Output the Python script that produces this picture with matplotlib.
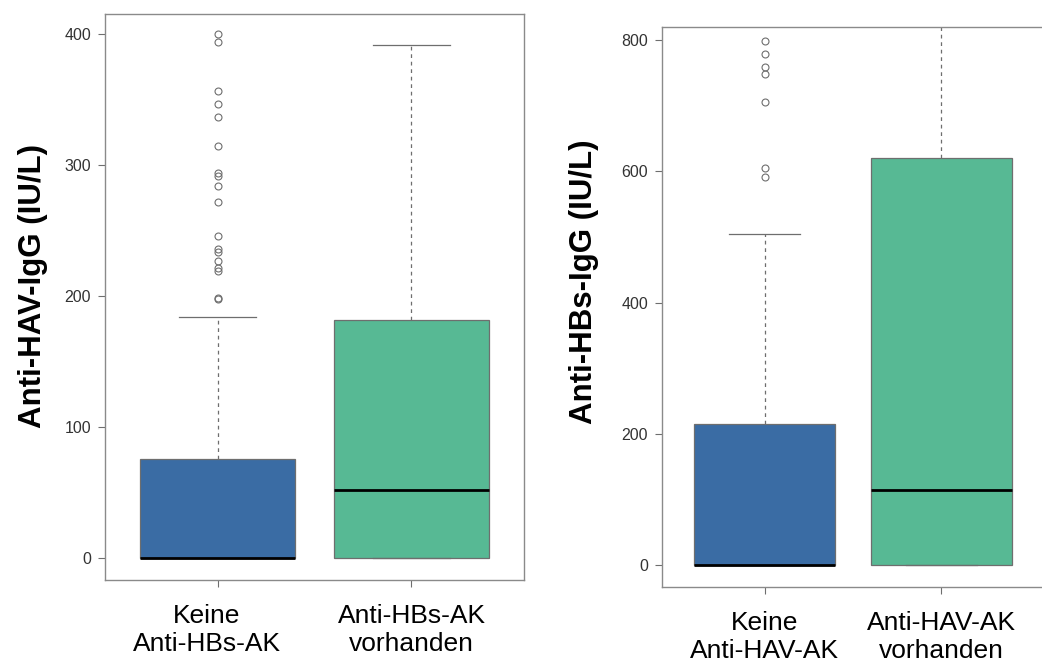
import matplotlib.pyplot as plt
import matplotlib.transforms as mtransforms

plt.rcParams["font.family"] = ["Liberation Sans", "DejaVu Sans"]

# Left panel: Anti-HAV-IgG by Anti-HBs status
hav_groups = ["Keine\nAnti-HBs-AK", "Anti-HBs-AK\nvorhanden"]
hav_q1 = [0, 0]
hav_med = [0, 52]
hav_q3 = [76, 182]
hav_whislo = [0, 0]
hav_whishi = [184, 392]
hav_fliers = [
    [400, 394, 357, 347, 337, 315, 294, 292, 284, 272,
     246, 236, 234, 227, 222, 219, 199, 198],
    [],
]
hav_ticks = [0, 100, 200, 300, 400]

# Right panel: Anti-HBs-IgG by Anti-HAV status
hbs_groups = ["Keine\nAnti-HAV-AK", "Anti-HAV-AK\nvorhanden"]
hbs_q1 = [0, 0]
hbs_med = [0, 115]
hbs_q3 = [216, 621]
hbs_whislo = [0, 0]
hbs_whishi = [504, 950]
hbs_fliers = [[799, 779, 759, 749, 706, 605, 591], []]
hbs_ticks = [0, 200, 400, 600, 800]

COLORS = ["#3a6ca4", "#57b994"]
GREY = "#6e6e6e"


def make_stats(q1, med, q3, lo, hi, fliers):
    return [
        dict(q1=a, med=b, q3=c, whislo=d, whishi=e, fliers=f)
        for a, b, c, d, e, f in zip(q1, med, q3, lo, hi, fliers)
    ]


def draw_panel(ax, stats, groups, ticks, ylim, ylabel, label_xy):
    bp = ax.bxp(
        stats,
        positions=[1, 2],
        widths=0.8,
        capwidths=0.4,
        patch_artist=True,
        boxprops=dict(edgecolor=GREY, linewidth=0.9),
        medianprops=dict(color="black", linewidth=2.0),
        whiskerprops=dict(color=GREY, linewidth=0.9, linestyle=(0, (3, 3))),
        capprops=dict(color=GREY, linewidth=0.9),
        flierprops=dict(marker="o", markerfacecolor="none",
                        markeredgecolor=GREY, markersize=5, markeredgewidth=0.8),
    )
    for patch, c in zip(bp["boxes"], COLORS):
        patch.set_facecolor(c)

    ax.set_xlim(0.42, 2.58)
    ax.set_ylim(*ylim)
    ax.set_yticks(ticks)
    ax.set_xticks([1, 2])
    ax.set_xticklabels(groups, fontsize=19, linespacing=1.25)
    ax.tick_params(axis="y", labelsize=11.5, labelcolor="#333333",
                   length=5, width=0.8, color=GREY, pad=5)
    ax.tick_params(axis="x", length=5, width=0.8, color=GREY, pad=12)
    for s in ax.spines.values():
        s.set_color("#8a8a8a")
        s.set_linewidth(1.0)

    ax.set_ylabel(ylabel, fontsize=22.5, fontweight="bold")
    ax.yaxis.set_label_coords(*label_xy)


fig = plt.figure(figsize=(10.42, 6.62), dpi=100)

ax1 = fig.add_axes([105 / 1042, 82 / 662, 419 / 1042, 566 / 662])
draw_panel(ax1,
           make_stats(hav_q1, hav_med, hav_q3, hav_whislo, hav_whishi, hav_fliers),
           hav_groups, hav_ticks, (-16.5, 415.5),
           "Anti-HAV-IgG (IU/L)", (-0.135, 0.52))

# first group label sits a little left of its box
shift = mtransforms.ScaledTranslation(-0.11, 0, fig.dpi_scale_trans)
lbl = ax1.get_xticklabels()[0]
lbl.set_transform(lbl.get_transform() + shift)

ax2 = fig.add_axes([662 / 1042, 75 / 662, 382 / 1042, 560 / 662])
draw_panel(ax2,
           make_stats(hbs_q1, hbs_med, hbs_q3, hbs_whislo, hbs_whishi, hbs_fliers),
           hbs_groups, hbs_ticks, (-33, 820),
           "Anti-HBs-IgG (IU/L)", (-0.165, 0.545))

fig.savefig("out.png", dpi=100)
